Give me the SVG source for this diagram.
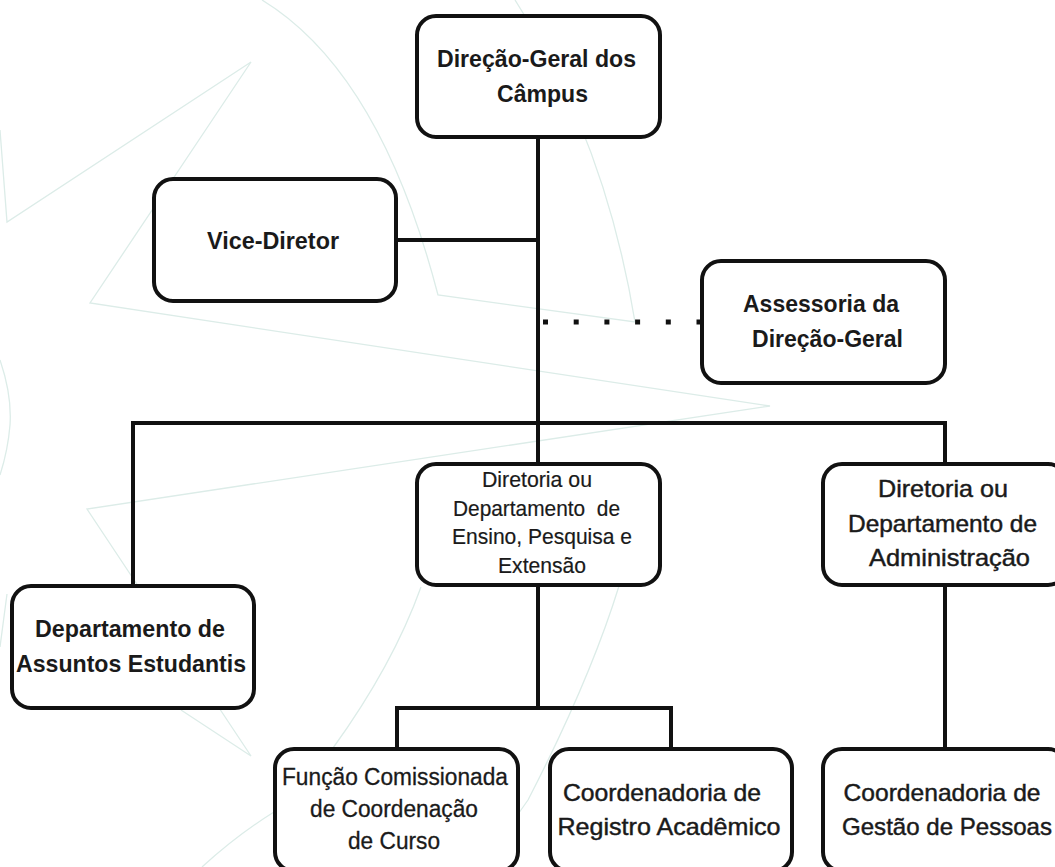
<svg xmlns="http://www.w3.org/2000/svg" width="1055" height="867" viewBox="0 0 1055 867">
<style>
.bg{fill:none;stroke:#dcecE8;stroke-width:1.3}
.c{fill:none;stroke:#111;stroke-width:4}
.b{fill:#fff;stroke:#111;stroke-width:4}
text{font-family:"Liberation Sans",Arial,sans-serif;fill:#1a1a1a;text-anchor:middle}
.t{font-size:24px;font-weight:700}
.r{font-size:24px;stroke:#1a1a1a;stroke-width:.45px}
.f{font-size:23px;stroke:#1a1a1a;stroke-width:.3px}
.s{font-size:22px;stroke:#1a1a1a;stroke-width:.2px}
</style>
<rect width="1055" height="867" fill="#fff"/>
<g id="watermark">
<path class="bg" d="M0 130L7 222L251 62L90 303L770 406L87 509L251 756L181 710"/>
<path class="bg" d="M262 0Q380 72 438 295L635 322Q605 139 515 0"/>
<path class="bg" d="M421 587Q393 665 333 748M619 586Q590 680 528 800Q500 840 480 867M274 812Q237 835 202 867"/>
<path class="bg" d="M0 360Q12 395 10 425Q8 450 0 475M7 594L0 647"/>
</g>
<g id="connectors">
<path class="c" d="M538 138V708"/>
<path class="c" d="M396 240H538"/>
<path class="c" d="M133 586V423H945V463"/>
<path class="c" d="M945 586V748"/>
<path class="c" d="M397 748V708H671V748"/>
<path d="M543 322H701" fill="none" stroke="#111" stroke-width="5" stroke-dasharray="5 25.7"/>
</g>
<g id="direcao-geral"><rect class="b" x="417" y="16" width="243" height="121" rx="19"/><text class="t" x="536.5" y="67" textLength="199" lengthAdjust="spacingAndGlyphs">Direção-Geral dos</text><text class="t" x="542.5" y="102" textLength="91" lengthAdjust="spacingAndGlyphs">Câmpus</text></g>
<g id="vice-diretor"><rect class="b" x="154" y="179" width="242" height="122" rx="19"/><text class="t" x="273" y="249" textLength="132" lengthAdjust="spacingAndGlyphs">Vice-Diretor</text></g>
<g id="assessoria"><rect class="b" x="702" y="261" width="243" height="122" rx="19"/><text class="t" x="821" y="312" textLength="156" lengthAdjust="spacingAndGlyphs">Assessoria da</text><text class="t" x="827.5" y="347" textLength="151" lengthAdjust="spacingAndGlyphs">Direção-Geral</text></g>
<g id="dir-ensino"><rect class="b" x="417" y="464" width="243" height="121" rx="19"/><text class="s" x="537" y="487" textLength="110" lengthAdjust="spacingAndGlyphs">Diretoria ou</text><text class="s" x="536.5" y="516" textLength="167" lengthAdjust="spacingAndGlyphs" xml:space="preserve">Departamento  de</text><text class="s" x="542" y="544" textLength="180" lengthAdjust="spacingAndGlyphs">Ensino, Pesquisa e</text><text class="s" x="542" y="573" textLength="88" lengthAdjust="spacingAndGlyphs">Extensão</text></g>
<g id="dir-admin"><rect class="b" x="823" y="464" width="244" height="121" rx="19"/><text class="r" x="943" y="497" textLength="130" lengthAdjust="spacingAndGlyphs">Diretoria ou</text><text class="r" x="942.5" y="532" textLength="189" lengthAdjust="spacingAndGlyphs">Departamento de</text><text class="r" x="949.5" y="566" textLength="161" lengthAdjust="spacingAndGlyphs">Administração</text></g>
<g id="dep-assuntos"><rect class="b" x="12" y="586" width="242" height="122" rx="19"/><text class="t" x="130" y="637" textLength="190" lengthAdjust="spacingAndGlyphs">Departamento de</text><text class="t" x="131" y="672" textLength="230" lengthAdjust="spacingAndGlyphs">Assuntos Estudantis</text></g>
<g id="funcao"><rect class="b" x="275" y="749" width="243" height="122" rx="19"/><text class="f" x="395" y="785" textLength="226" lengthAdjust="spacingAndGlyphs">Função Comissionada</text><text class="f" x="394" y="817" textLength="168" lengthAdjust="spacingAndGlyphs">de Coordenação</text><text class="f" x="394" y="849" textLength="92" lengthAdjust="spacingAndGlyphs">de Curso</text></g>
<g id="coord-registro"><rect class="b" x="550" y="749" width="242" height="122" rx="19"/><text class="r" x="662" y="801" textLength="198" lengthAdjust="spacingAndGlyphs">Coordenadoria de</text><text class="r" x="669" y="835" textLength="223" lengthAdjust="spacingAndGlyphs">Registro Acadêmico</text></g>
<g id="coord-gestao"><rect class="b" x="823" y="749" width="244" height="122" rx="19"/><text class="r" x="942" y="801" textLength="197" lengthAdjust="spacingAndGlyphs">Coordenadoria de</text><text class="r" x="947" y="835" textLength="210" lengthAdjust="spacingAndGlyphs">Gestão de Pessoas</text></g>
</svg>
